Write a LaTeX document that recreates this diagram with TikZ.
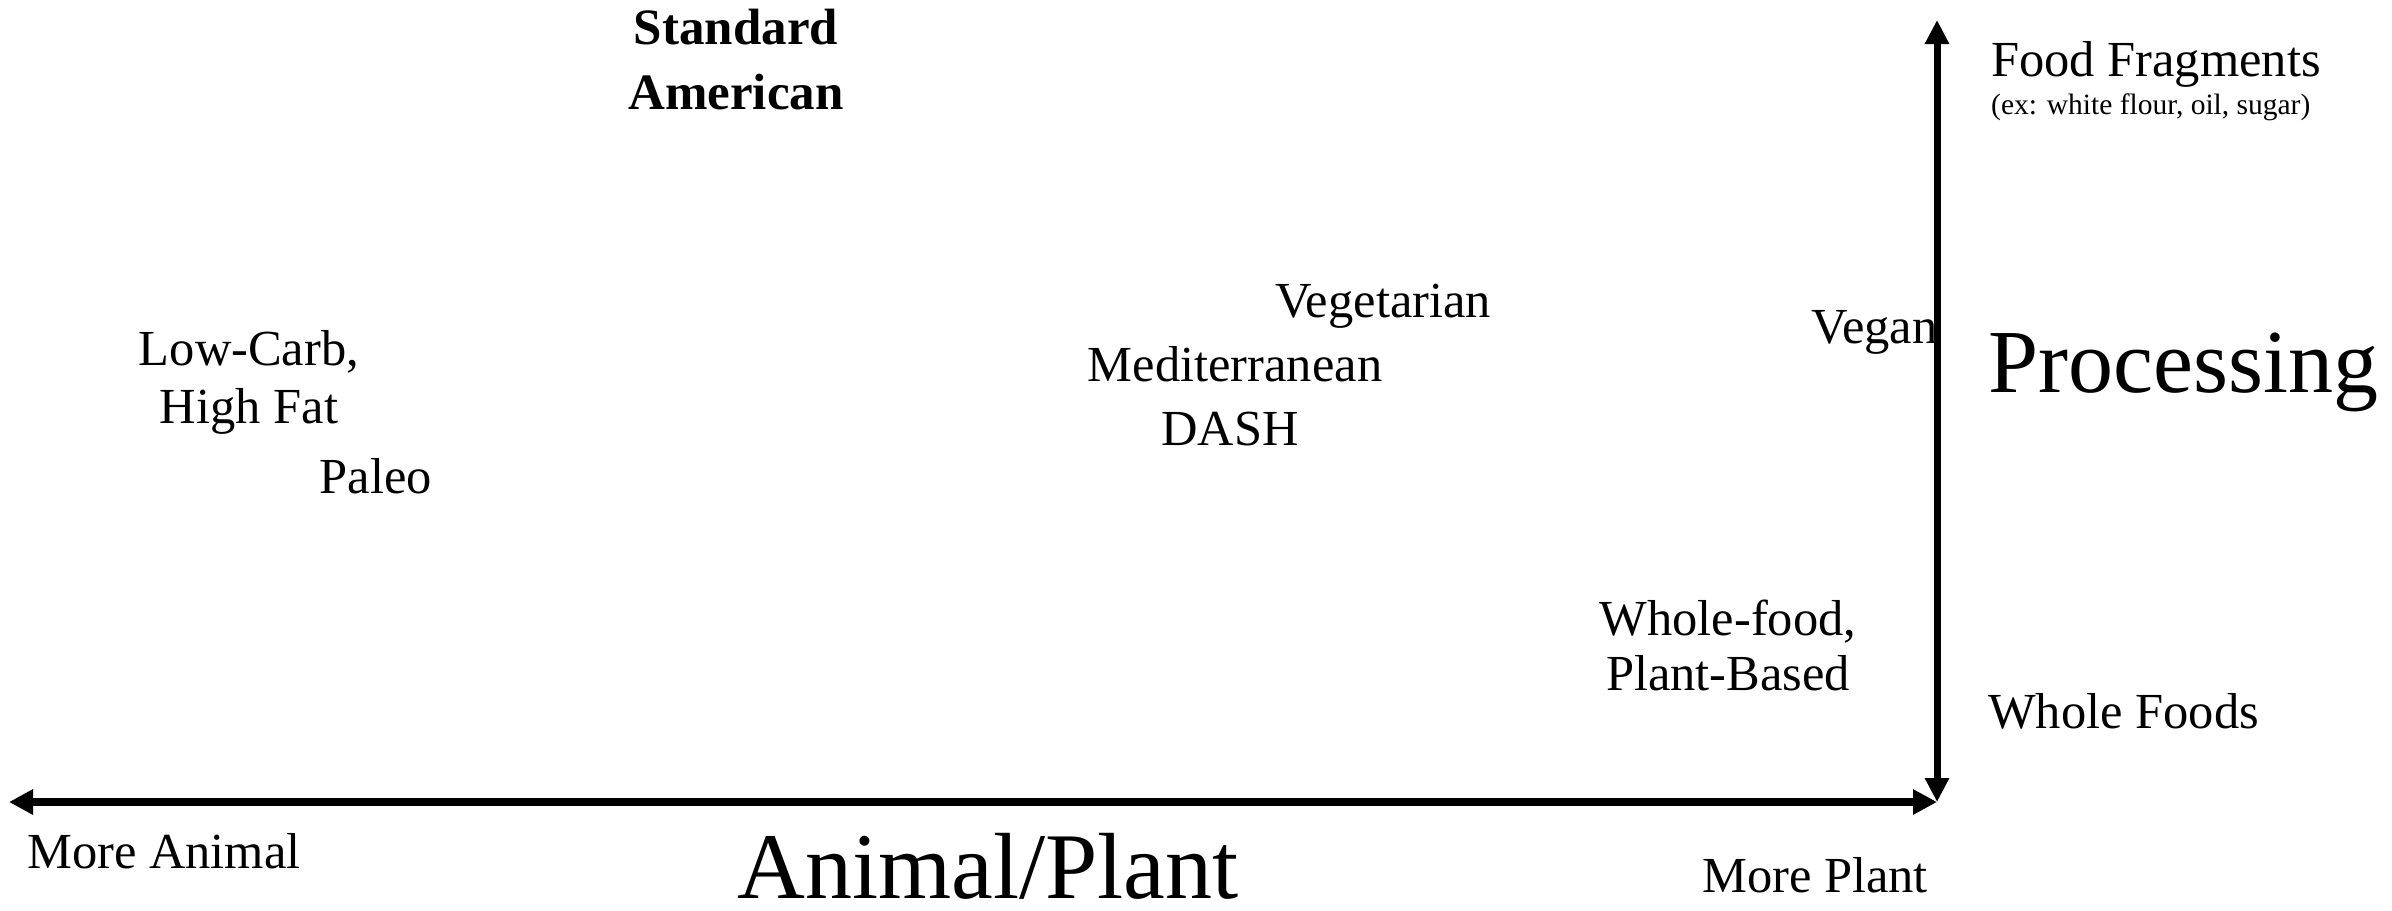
\documentclass[tikz,border=0pt]{standalone}
\usepackage{fontspec}
\setmainfont{Liberation Serif}
\usetikzlibrary{arrows.meta}
\tikzset{
  lbl/.style={inner sep=0pt, font=\fontsize{50.5}{57}\selectfont},
  big/.style={inner sep=0pt, font=\fontsize{90}{100}\selectfont},
  small/.style={inner sep=0pt, font=\fontsize{29.5}{34}\selectfont},
  boldlbl/.style={inner sep=0pt, font=\fontsize{51}{65}\selectfont\bfseries},
  axisline/.style={line width=8pt, {Triangle[length=24pt,width=24pt]}-{Triangle[length=24pt,width=24pt]}},
  vaxisline/.style={line width=7pt, {Triangle[length=24pt,width=23pt]}-{Triangle[length=24pt,width=23pt]}}
}
\begin{document}
\begin{tikzpicture}[x=1pt,y=-1pt]
\useasboundingbox (0,0) rectangle (2392,910);
\coordinate (L) at (9,802);
\coordinate (O) at (1937,802);
\coordinate (T) at (1937,20);
\draw[axisline] (L) -- (O);
\draw[vaxisline] (T) -- (O);

\node[boldlbl, anchor=base, align=center] (sad) at (736,109) {Standard\\American};
\node[lbl, anchor=base west] (ff) at (1991,76) {Food Fragments};
\node[small, anchor=base west] (ex) at (1991,114) {(ex: white flour, oil, sugar)};
\node[lbl, anchor=base] (veg) at (1383,317) {Vegetarian};
\node[lbl, anchor=base] (med) at (1235,381) {Mediterranean};
\node[lbl, anchor=base] (dash) at (1230,445) {DASH};
\node[lbl, anchor=base west] (vegan) at (1811,343) {Vegan};
\node[big, anchor=base west] (proc) at (1988,392) {Processing};
\node[lbl, anchor=base west] (wf) at (1988,728) {Whole Foods};
\node[lbl, anchor=base, align=center, font=\fontsize{50.5}{55}\selectfont] (wfpb) at (1728,690) {Whole-food,\\Plant-Based};
\node[lbl, anchor=base, align=center, font=\fontsize{50.5}{58}\selectfont] (lchf) at (249,423) {Low-Carb,\\High Fat};
\node[lbl, anchor=base] (paleo) at (376,493) {Paleo};
\node[lbl, anchor=base west] (ma) at (27,868) {More Animal};
\node[big, anchor=base, font=\fontsize{94}{100}\selectfont] (ap) at (988,898) {Animal/Plant};
\node[lbl, anchor=base] (mp) at (1815,892) {More Plant};
\end{tikzpicture}
\end{document}
